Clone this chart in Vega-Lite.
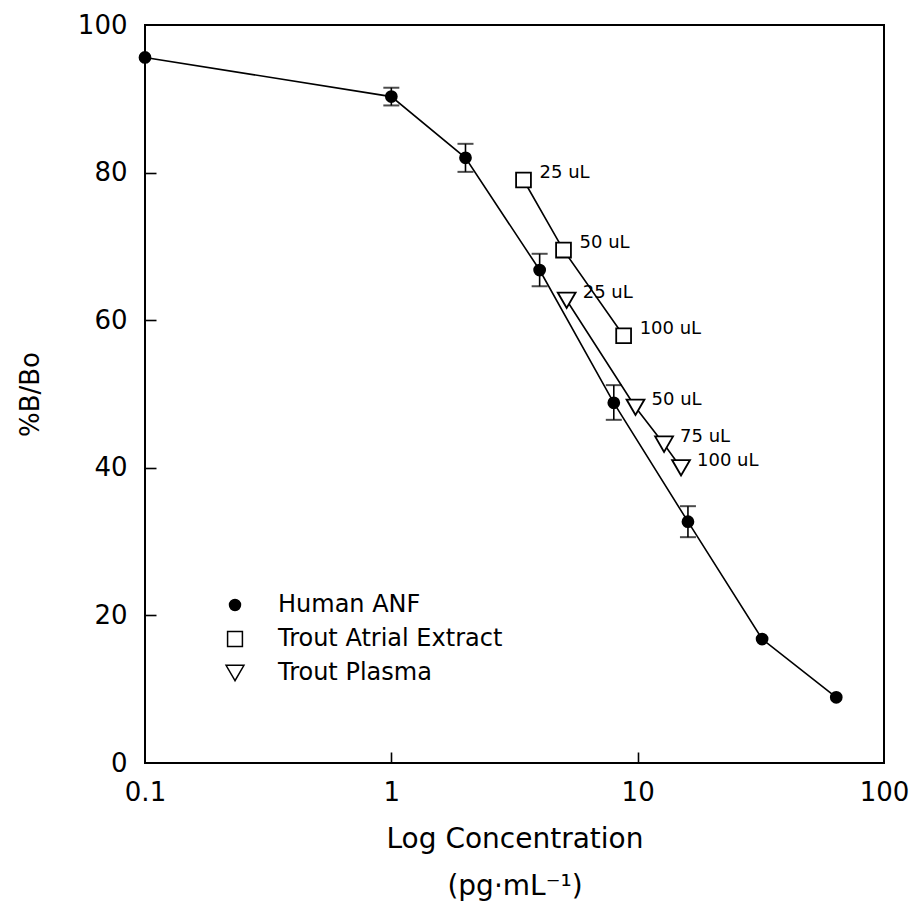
{
  "$schema": "https://vega.github.io/schema/vega-lite/v6.json",
  "width": 739,
  "height": 738,
  "autosize": "none",
  "padding": {"left": 145, "top": 25, "right": 30, "bottom": 153},
  "background": "white",
  "config": {
    "font": "DejaVu Sans",
    "view": {"stroke": "black", "strokeWidth": 2},
    "axis": {"grid": false, "domain": false, "tickColor": "black", "tickWidth": 1.6, "labelColor": "black", "titleColor": "black", "labelFontSize": 26, "titleFontSize": 27, "titleFontWeight": "normal", "labelFlush": false},
    "legend": {"labelLimit": 0}
  },
  "data": {"values": [
    {"series": "Human ANF", "conc": 0.1, "pct": 95.6},
    {"series": "Human ANF", "conc": 1, "pct": 90.3, "lo": 89.1, "hi": 91.5},
    {"series": "Human ANF", "conc": 2, "pct": 82.0, "lo": 80.1, "hi": 83.9},
    {"series": "Human ANF", "conc": 4, "pct": 66.8, "lo": 64.6, "hi": 69.0},
    {"series": "Human ANF", "conc": 8, "pct": 48.8, "lo": 46.5, "hi": 51.2},
    {"series": "Human ANF", "conc": 16, "pct": 32.7, "lo": 30.6, "hi": 34.8},
    {"series": "Human ANF", "conc": 32, "pct": 16.8},
    {"series": "Human ANF", "conc": 64, "pct": 8.9},
    {"series": "Trout Atrial Extract", "conc": 3.44, "pct": 79.0, "label": "25 uL"},
    {"series": "Trout Atrial Extract", "conc": 5.0, "pct": 69.5, "label": "50 uL"},
    {"series": "Trout Atrial Extract", "conc": 8.77, "pct": 57.9, "label": "100 uL"},
    {"series": "Trout Plasma", "conc": 5.15, "pct": 62.7, "label": "25 uL"},
    {"series": "Trout Plasma", "conc": 9.8, "pct": 48.2, "label": "50 uL"},
    {"series": "Trout Plasma", "conc": 12.8, "pct": 43.2, "label": "75 uL"},
    {"series": "Trout Plasma", "conc": 15.0, "pct": 40.0, "label": "100 uL"}
  ]},
  "layer": [
    {"mark": {"type": "line", "color": "black", "strokeWidth": 1.6},
     "encoding": {
       "x": {"field": "conc", "type": "quantitative", "scale": {"type": "log", "domain": [0.1, 100], "nice": false},
         "axis": {"orient": "bottom", "values": [1, 10], "labels": false, "ticks": true, "tickSize": 11, "offset": -11, "title": null}},
       "y": {"field": "pct", "type": "quantitative", "scale": {"domain": [0, 100], "nice": false},
         "axis": {"orient": "left", "values": [20, 40, 60, 80], "labels": false, "ticks": true, "tickSize": 11, "offset": -11, "title": null}},
       "detail": {"field": "series"}, "order": {"field": "conc"}}},
    {"encoding": {
       "x": {"field": "conc", "type": "quantitative", "scale": {"type": "log", "domain": [0.1, 100], "nice": false},
         "axis": {"orient": "bottom", "values": [0.1, 1, 10, 100], "format": "~g", "ticks": false, "labelPadding": 16, "titlePadding": 20, "titleFontSize": 28,
           "title": ["Log Concentration", "(pg·mL⁻¹)"], "titleLineHeight": 47}},
       "y": {"field": "pct", "type": "quantitative", "scale": {"domain": [0, 100], "nice": false},
         "axis": {"orient": "left", "values": [0, 20, 40, 60, 80, 100], "ticks": false, "labelPadding": 18, "titlePadding": 34, "titleFontSize": 26, "title": "%B/Bo"}}
     },
     "layer": [
      {"transform": [{"filter": "isValid(datum.lo)"}],
       "mark": {"type": "rule", "color": "black", "strokeWidth": 1.6},
       "encoding": {"y": {"field": "lo", "type": "quantitative"}, "y2": {"field": "hi"}}},
      {"transform": [{"filter": "isValid(datum.lo)"}],
       "mark": {"type": "tick", "color": "black", "orient": "horizontal", "size": 16, "thickness": 2},
       "encoding": {"y": {"field": "lo", "type": "quantitative"}}},
      {"transform": [{"filter": "isValid(datum.lo)"}],
       "mark": {"type": "tick", "color": "black", "orient": "horizontal", "size": 16, "thickness": 2},
       "encoding": {"y": {"field": "hi", "type": "quantitative"}}},
      {"mark": {"type": "point", "color": "black", "stroke": "black", "strokeWidth": 1.8, "opacity": 1},
       "encoding": {
         "shape": {"field": "series", "type": "nominal", "scale": {"domain": ["Human ANF", "Trout Atrial Extract", "Trout Plasma"], "range": ["circle", "square", "triangle-down"]},
           "legend": {"title": null, "orient": "bottom-left", "offset": 70, "padding": 8, "labelFontSize": 24, "labelColor": "black", "labelOffset": 31, "rowPadding": 10, "labelLimit": 0,
             "encode": {"symbols": {"update": {"stroke": {"value": "black"}, "strokeWidth": {"value": 1.8}, "opacity": {"value": 1}}}}}},
         "fill": {"field": "series", "type": "nominal", "scale": {"domain": ["Human ANF", "Trout Atrial Extract", "Trout Plasma"], "range": ["black", "white", "white"]},
           "legend": {"title": null, "orient": "bottom-left", "offset": 70, "padding": 8, "labelFontSize": 24, "labelColor": "black", "labelOffset": 31, "rowPadding": 10, "labelLimit": 0,
             "encode": {"symbols": {"update": {"stroke": {"value": "black"}, "strokeWidth": {"value": 1.8}, "opacity": {"value": 1}}}}}},
         "size": {"field": "series", "type": "nominal", "scale": {"domain": ["Human ANF", "Trout Atrial Extract", "Trout Plasma"], "range": [120, 320, 330]},
           "legend": {"title": null, "orient": "bottom-left", "offset": 70, "padding": 8, "labelFontSize": 24, "labelColor": "black", "labelOffset": 31, "rowPadding": 10, "labelLimit": 0,
             "encode": {"symbols": {"update": {"stroke": {"value": "black"}, "strokeWidth": {"value": 1.8}, "opacity": {"value": 1}}}}}}
       }},
      {"transform": [{"filter": "isValid(datum.label)"}],
       "mark": {"type": "text", "align": "left", "baseline": "middle", "dx": 16, "dy": -7, "fontSize": 18, "color": "black"},
       "encoding": {"text": {"field": "label"}}}
     ]}
  ],
  "resolve": {"axis": {"x": "independent", "y": "independent"}}
}
